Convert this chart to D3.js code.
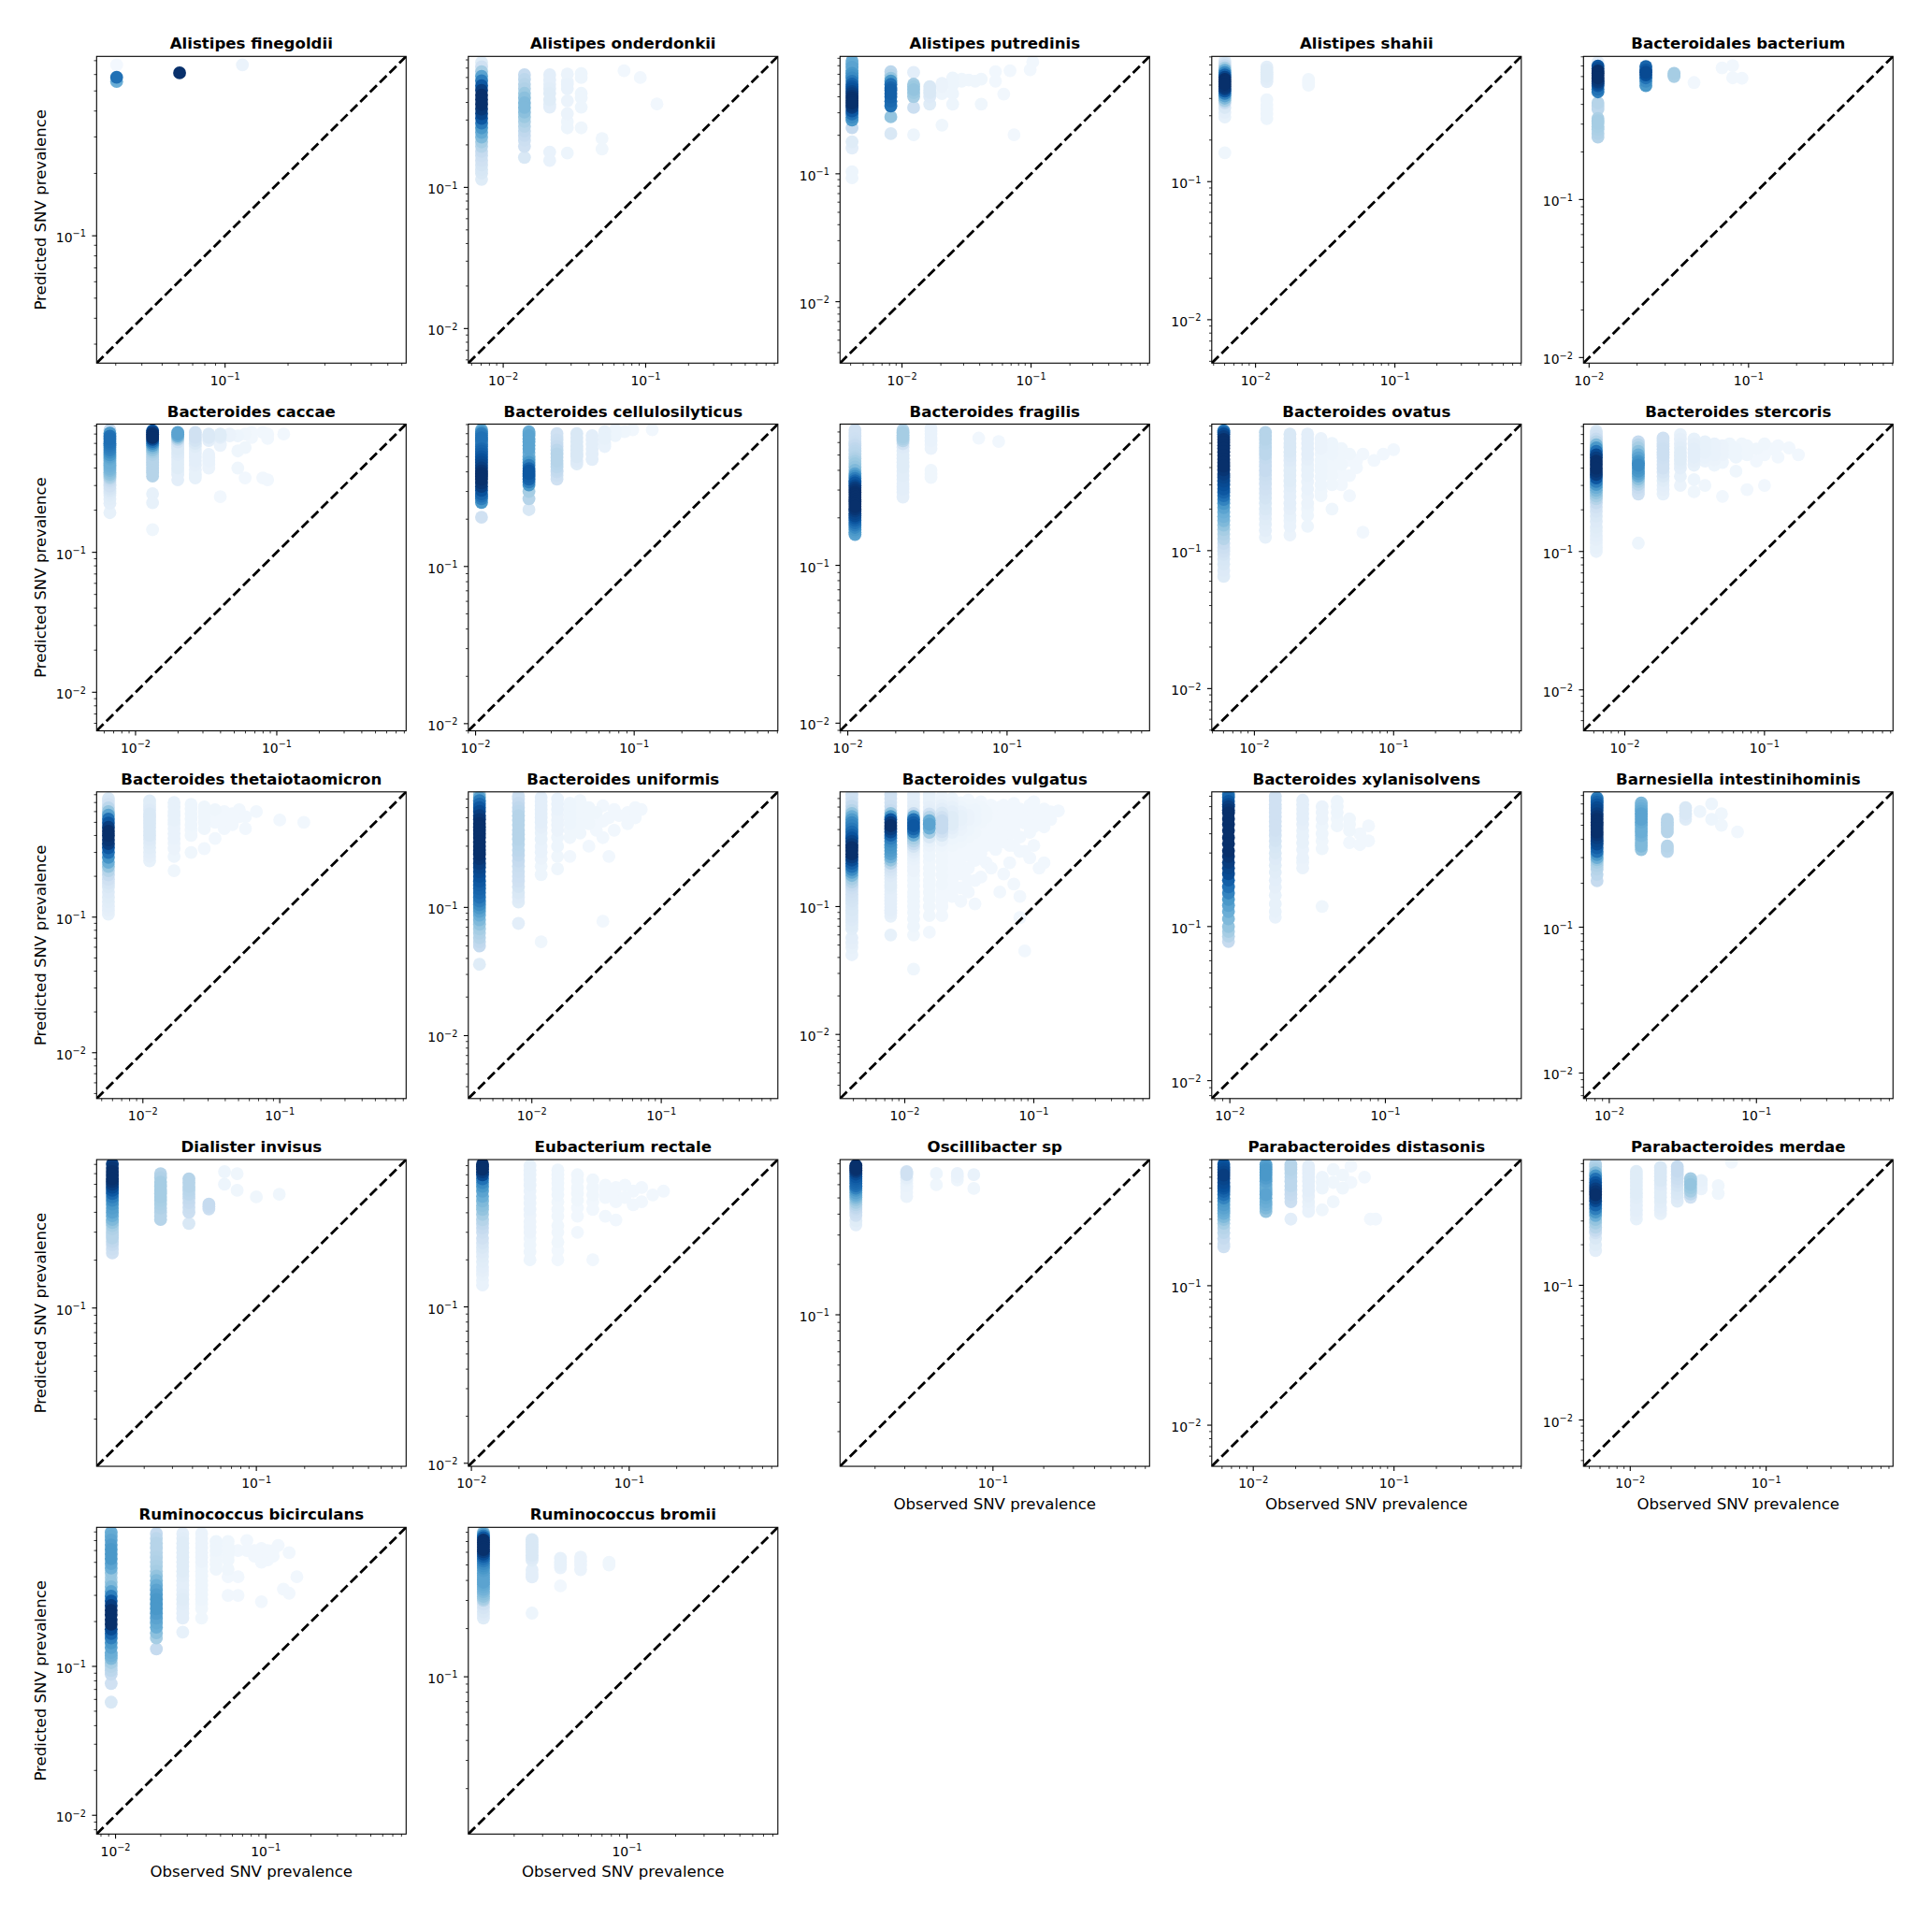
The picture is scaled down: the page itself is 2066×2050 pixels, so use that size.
<!DOCTYPE html>
<html><head><meta charset="utf-8">
<script src="https://cdn.jsdelivr.net/npm/d3@7"></script>
<style>body{margin:0;background:#fff} svg{display:block} text{font-family:"DejaVu Sans",sans-serif;fill:#000}</style>
</head><body><svg id="fig" width="2066" height="2050"></svg>
<script>
const speciesNames = ["Alistipes finegoldii","Alistipes onderdonkii","Alistipes putredinis","Alistipes shahii","Bacteroidales bacterium","Bacteroides caccae","Bacteroides cellulosilyticus","Bacteroides fragilis","Bacteroides ovatus","Bacteroides stercoris","Bacteroides thetaiotaomicron","Bacteroides uniformis","Bacteroides vulgatus","Bacteroides xylanisolvens","Barnesiella intestinihominis","Dialister invisus","Eubacterium rectale","Oscillibacter sp","Parabacteroides distasonis","Parabacteroides merdae","Ruminococcus bicirculans","Ruminococcus bromii"];
const axisLo = [0.0243,0.00569,0.00331,0.00485,0.00922,0.0053,0.009,0.00894,0.00494,0.00506,0.00459,0.00323,0.00315,0.00765,0.00668,0.0101,0.00956,0.0124,0.00507,0.00453,0.00748,0.0104];
const axisHi = [0.734,0.847,0.828,0.807,0.805,0.824,0.805,0.785,0.826,0.832,0.839,0.796,0.789,0.748,0.847,0.858,0.875,0.848,0.802,0.857,0.859,0.859];
const majorTickValues = [0.01, 0.1];
const majorTickBase = ["10","10"];
const majorTickExp = ["\u22122","\u22121"];
const xAxisLabel = "Observed SNV prevalence";
const yAxisLabel = "Predicted SNV prevalence";
const bluesStops = ["#f7fbff","#deebf7","#c6dbef","#9ecae1","#6baed6","#4292c6","#2171b5","#08519c","#08306b"];

// each column: [observed prevalence, [predicted, density, predicted, density, ...]]
const alistipesFinegoldii = [
 [0.0303,[0.668,.02,0.582,.75,0.555,.5]],
 [0.0606,[0.611,1]],
 [0.121,[0.668,.06]]
];
const alistipesOnderdonkii = [
 [0.00705,[0.769,.12,0.715,.2,0.661,.35,0.612,.55,0.568,.7,0.525,.85,0.487,.95,0.45,1,0.418,1,0.388,1,0.359,.97,0.333,.92,0.308,.85,0.285,.72,0.264,.6,0.245,.52,0.227,.45,0.21,.35,0.195,.3,0.18,.25,0.168,.22,0.155,.2,0.144,.18,0.134,.16,0.126,.15,0.114,.12]],
 [0.0141,[0.628,.25,0.583,.28,0.538,.3,0.5,.32,0.464,.38,0.43,.42,0.397,.45,0.368,.45,0.341,.42,0.316,.38,0.293,.33,0.271,.3,0.251,.27,0.233,.25,0.216,.22,0.195,.2,0.163,.15]],
 [0.0212,[0.628,.1,0.58,.1,0.538,.1,0.5,.11,0.464,.12,0.418,.12,0.39,.1,0.37,.1,0.178,.07,0.155,.07]],
 [0.0282,[0.635,.06,0.56,.06,0.538,.07,0.5,.07,0.41,.06,0.333,.06,0.293,.05,0.264,.05,0.175,.05]],
 [0.0353,[0.64,.05,0.6,.05,0.464,.05,0.43,.05,0.37,.05,0.264,.04]],
 [0.0494,[0.222,.04,0.187,.04]],
 [0.0705,[0.67,.03]],
 [0.0917,[0.6,.03]],
 [0.12,[0.39,.03]]
];
const alistipesPutredinis = [
 [0.0041,[0.764,.5,0.72,.52,0.682,.55,0.645,.55,0.611,.6,0.585,.62,0.562,.65,0.53,.72,0.502,.8,0.48,.85,0.461,.88,0.44,.92,0.424,.95,0.405,.98,0.39,1,0.372,1,0.358,1,0.343,.97,0.33,.95,0.31,.85,0.294,.75,0.278,.65,0.263,.6,0.229,.25,0.178,.12,0.159,.1,0.104,.05,0.093,.05]],
 [0.00819,[0.628,.28,0.59,.3,0.56,.4,0.531,.6,0.5,.75,0.47,.8,0.45,.82,0.424,.82,0.4,.8,0.37,.78,0.339,.75,0.279,.4,0.206,.15]],
 [0.0123,[0.62,.1,0.502,.35,0.48,.38,0.455,.4,0.43,.38,0.401,.35,0.33,.22,0.202,.05]],
 [0.0164,[0.48,.15,0.45,.15,0.43,.15,0.401,.13,0.35,.12]],
 [0.0204,[0.51,.06,0.48,.06,0.424,.05,0.24,.04]],
 [0.0247,[0.562,.05,0.5,.05,0.424,.05,0.35,.05]],
 [0.029,[0.55,.04,0.53,.04]],
 [0.0329,[0.54,.04]],
 [0.0369,[0.53,.04]],
 [0.0411,[0.55,.04,0.35,.04]],
 [0.053,[0.63,.03,0.53,.03]],
 [0.0614,[0.42,.03]],
 [0.0687,[0.64,.03]],
 [0.0738,[0.202,.03]],
 [0.0984,[0.65,.03]],
 [0.103,[0.75,.03]]
];
const alistipesShahii = [
 [0.00602,[0.75,.12,0.72,.18,0.693,.25,0.665,.35,0.641,.5,0.615,.65,0.593,.8,0.57,.92,0.55,1,0.528,1,0.508,1,0.488,.98,0.47,.95,0.452,.85,0.435,.7,0.418,.55,0.402,.45,0.386,.35,0.372,.25,0.344,.15,0.318,.1,0.294,.08,0.162,.04]],
 [0.01205,[0.676,.1,0.645,.12,0.62,.12,0.598,.12,0.578,.12,0.555,.11,0.53,.1,0.392,.05,0.36,.05,0.335,.05,0.31,.05,0.286,.05]],
 [0.024,[0.55,.04,0.52,.04,0.5,.04]]
];
const bacteroidalesBacterium = [
 [0.01136,[0.738,.1,0.7,.85,0.675,.9,0.65,1,0.63,1,0.61,1,0.589,1,0.57,.97,0.555,.95,0.54,.9,0.525,.85,0.5,.75,0.48,.7,0.409,.3,0.39,.28,0.373,.28,0.326,.33,0.315,.35,0.304,.35,0.29,.34,0.278,.33,0.262,.32,0.248,.3]],
 [0.0227,[0.695,.8,0.66,.85,0.638,.9,0.615,.88,0.589,.75,0.56,.65,0.525,.6]],
 [0.0341,[0.63,.35,0.615,.34,0.601,.33]],
 [0.0455,[0.55,.03]],
 [0.0682,[0.68,.03]],
 [0.0795,[0.705,.03,0.589,.03]],
 [0.0909,[0.585,.03]]
];
const bacteroidesCaccae = [
 [0.00658,[0.748,.25,0.71,.6,0.676,.75,0.645,.76,0.62,.75,0.6,.74,0.58,.72,0.56,.7,0.54,.68,0.518,.64,0.497,.6,0.48,.55,0.465,.52,0.45,.5,0.436,.5,0.42,.49,0.41,.48,0.397,.47,0.385,.45,0.372,.42,0.36,.4,0.348,.35,0.338,.3,0.326,.25,0.315,.22,0.305,.2,0.297,.2,0.285,.17,0.275,.15,0.265,.13,0.255,.12,0.24,.11,0.224,.1,0.192,.08]],
 [0.0132,[0.74,.85,0.72,.95,0.7,1,0.68,1,0.66,1,0.64,.9,0.62,.75,0.6,.65,0.58,.55,0.56,.45,0.54,.4,0.52,.35,0.5,.32,0.48,.3,0.46,.3,0.44,.3,0.42,.3,0.4,.3,0.385,.3,0.37,.3,0.35,.3,0.262,.08,0.226,.08,0.145,.04]],
 [0.0199,[0.72,.55,0.7,.55,0.68,.5,0.66,.4,0.64,.3,0.615,.2,0.59,.15,0.57,.15,0.55,.15,0.52,.14,0.5,.13,0.475,.12,0.45,.12,0.425,.12,0.4,.12,0.38,.1,0.36,.1,0.33,.1]],
 [0.0265,[0.72,.2,0.69,.2,0.66,.2,0.63,.18,0.6,.15,0.57,.12,0.54,.1,0.51,.1,0.48,.1,0.45,.1,0.42,.09,0.39,.08,0.36,.08,0.34,.08]],
 [0.033,[0.7,.14,0.68,.14,0.66,.14,0.63,.1,0.5,.07,0.475,.07,0.45,.07,0.425,.06,0.4,.06]],
 [0.0398,[0.7,.12,0.68,.12,0.66,.1,0.6,.06,0.58,.06,0.25,.03]],
 [0.0464,[0.7,.06,0.68,.06]],
 [0.053,[0.68,.05,0.53,.04,0.4,.04]],
 [0.0597,[0.7,.04,0.56,.04,0.34,.03]],
 [0.0663,[0.72,.03,0.66,.03]],
 [0.0796,[0.72,.03,0.34,.03]],
 [0.0862,[0.7,.03,0.65,.03,0.33,.03]],
 [0.112,[0.7,.03]]
];
const bacteroidesCellulosilyticus = [
 [0.0109,[0.74,.5,0.72,.6,0.7,.7,0.68,.72,0.66,.75,0.64,.72,0.62,.7,0.6,.72,0.58,.75,0.56,.78,0.54,.8,0.52,.82,0.5,.85,0.48,.88,0.46,.9,0.44,.92,0.423,.95,0.405,.98,0.39,1,0.375,1,0.36,1,0.34,.98,0.323,.95,0.305,.88,0.29,.8,0.28,.75,0.27,.7,0.255,.6,0.206,.2]],
 [0.0217,[0.72,.5,0.7,.52,0.68,.55,0.65,.55,0.62,.55,0.59,.55,0.56,.55,0.53,.5,0.5,.5,0.48,.55,0.46,.6,0.44,.7,0.42,.8,0.405,.85,0.39,.85,0.375,.82,0.36,.8,0.345,.7,0.33,.6,0.3,.35,0.27,.3,0.23,.15]],
 [0.0326,[0.7,.2,0.67,.2,0.64,.22,0.61,.23,0.58,.25,0.55,.28,0.52,.3,0.495,.3,0.47,.3,0.45,.29,0.43,.28,0.41,.26,0.4,.25,0.38,.22,0.36,.2]],
 [0.0435,[0.7,.15,0.66,.15,0.62,.15,0.58,.15,0.55,.15,0.52,.15,0.5,.15,0.47,.13,0.45,.12]],
 [0.0543,[0.68,.1,0.64,.1,0.6,.1,0.56,.1,0.52,.1,0.48,.1]],
 [0.0652,[0.72,.08,0.68,.08,0.65,.08,0.61,.07,0.58,.07]],
 [0.076,[0.74,.05,0.71,.05,0.68,.05]],
 [0.087,[0.72,.04]],
 [0.098,[0.74,.03]],
 [0.13,[0.74,.03]]
];
const bacteroidesFragilis = [
 [0.0111,[0.72,.2,0.69,.2,0.66,.2,0.635,.21,0.61,.22,0.59,.23,0.574,.25,0.55,.27,0.53,.28,0.51,.29,0.49,.3,0.475,.32,0.458,.35,0.44,.38,0.42,.4,0.4,.45,0.381,.55,0.368,.62,0.355,.7,0.343,.78,0.333,.85,0.32,.9,0.31,.95,0.3,.98,0.29,1,0.28,1,0.27,1,0.26,1,0.253,1,0.245,1,0.236,1,0.228,.98,0.221,.95,0.213,.92,0.206,.9,0.2,.85,0.193,.8,0.186,.75,0.18,.7,0.174,.65,0.168,.6,0.162,.57,0.157,.55]],
 [0.0222,[0.72,.3,0.7,.33,0.689,.35,0.67,.35,0.65,.35,0.632,.33,0.615,.3,0.59,.2,0.56,.13,0.53,.12,0.5,.12,0.475,.12,0.45,.12,0.43,.12,0.418,.12,0.395,.11,0.37,.11,0.35,.1,0.33,.1,0.315,.1,0.304,.1,0.29,.09,0.271,.09]],
 [0.0333,[0.74,.07,0.71,.07,0.68,.07,0.645,.07,0.615,.07,0.58,.06,0.55,.06,0.4,.04,0.38,.04,0.36,.04]],
 [0.0664,[0.64,.03]],
 [0.0886,[0.61,.03]]
];
const bacteroidesOvatus = [
 [0.00602,[0.74,.7,0.72,.8,0.7,.9,0.67,.95,0.64,1,0.61,1,0.58,1,0.55,1,0.52,1,0.49,1,0.46,1,0.435,1,0.41,1,0.385,.98,0.36,.95,0.34,.92,0.32,.9,0.3,.88,0.28,.85,0.265,.8,0.25,.75,0.235,.68,0.22,.6,0.205,.55,0.19,.5,0.177,.48,0.165,.45,0.153,.4,0.142,.35,0.132,.32,0.122,.3,0.113,.25,0.105,.22,0.099,.2,0.094,.18,0.087,.16,0.08,.15,0.072,.13,0.065,.12]],
 [0.012,[0.72,.3,0.68,.3,0.64,.3,0.6,.29,0.56,.28,0.53,.28,0.5,.28,0.47,.26,0.44,.25,0.41,.25,0.38,.25,0.355,.23,0.33,.22,0.305,.21,0.28,.2,0.26,.19,0.24,.18,0.22,.16,0.2,.15,0.185,.13,0.17,.12,0.155,.11,0.14,.1,0.125,.08]],
 [0.018,[0.7,.15,0.65,.15,0.6,.15,0.56,.15,0.52,.15,0.485,.14,0.45,.13,0.415,.12,0.38,.12,0.35,.12,0.32,.12,0.295,.11,0.27,.1,0.245,.1,0.22,.1,0.2,.09,0.18,.08,0.165,.07,0.15,.07,0.13,.06]],
 [0.0241,[0.7,.1,0.65,.1,0.6,.1,0.55,.1,0.5,.1,0.46,.09,0.42,.08,0.385,.08,0.35,.08,0.315,.07,0.28,.07,0.25,.06,0.22,.06,0.2,.05,0.18,.05,0.15,.05]],
 [0.0301,[0.65,.06,0.6,.06,0.55,.06,0.5,.05,0.45,.05,0.41,.05,0.38,.05,0.34,.05,0.3,.05,0.27,.04,0.25,.04]],
 [0.0361,[0.6,.05,0.55,.05,0.5,.05,0.45,.04,0.4,.04,0.35,.04,0.3,.04,0.2,.04]],
 [0.0422,[0.55,.04,0.5,.04,0.42,.04,0.36,.03,0.3,.03]],
 [0.0482,[0.5,.04,0.45,.03,0.35,.03,0.25,.03]],
 [0.0542,[0.45,.03,0.4,.03]],
 [0.0602,[0.5,.03,0.136,.03]],
 [0.0723,[0.45,.03]],
 [0.0843,[0.5,.03]],
 [0.1,[0.54,.03]]
];
const bacteroidesStercoris = [
 [0.00625,[0.74,.15,0.71,.18,0.68,.2,0.65,.25,0.62,.3,0.59,.45,0.56,.6,0.53,.75,0.5,.9,0.475,.95,0.45,1,0.425,1,0.4,1,0.38,.98,0.36,.95,0.34,.85,0.32,.7,0.305,.6,0.29,.5,0.277,.45,0.265,.4,0.252,.35,0.24,.3,0.225,.25,0.21,.2,0.195,.17,0.18,.15,0.165,.13,0.15,.12,0.14,.11,0.13,.1,0.122,.09,0.115,.08,0.107,.08,0.1,.07]],
 [0.0125,[0.62,.25,0.59,.3,0.56,.35,0.53,.42,0.5,.5,0.475,.55,0.45,.6,0.435,.62,0.42,.65,0.4,.62,0.38,.6,0.365,.55,0.35,.5,0.335,.42,0.32,.35,0.305,.3,0.29,.25,0.275,.22,0.26,.2,0.115,.05]],
 [0.0188,[0.66,.2,0.63,.2,0.6,.2,0.575,.21,0.55,.22,0.525,.22,0.5,.22,0.475,.21,0.45,.2,0.425,.2,0.4,.2,0.375,.17,0.35,.15,0.325,.12,0.3,.1,0.28,.09,0.26,.08]],
 [0.025,[0.7,.08,0.65,.09,0.6,.1,0.56,.11,0.52,.12,0.49,.12,0.46,.12,0.43,.11,0.4,.1,0.35,.08,0.3,.06]],
 [0.0313,[0.65,.08,0.6,.09,0.55,.1,0.515,.1,0.48,.1,0.45,.09,0.42,.08,0.33,.05,0.27,.04]],
 [0.0375,[0.62,.08,0.57,.08,0.52,.08,0.48,.07,0.45,.06,0.3,.04]],
 [0.0438,[0.6,.07,0.55,.07,0.5,.07,0.46,.06,0.42,.05]],
 [0.05,[0.58,.06,0.54,.06,0.5,.06,0.44,.05,0.25,.03]],
 [0.0563,[0.6,.05,0.56,.05,0.52,.05]],
 [0.0625,[0.55,.05,0.48,.05,0.38,.04]],
 [0.0688,[0.6,.04,0.52,.04]],
 [0.075,[0.58,.04,0.5,.04,0.28,.03]],
 [0.0875,[0.55,.04,0.45,.03]],
 [0.1,[0.6,.04,0.5,.03,0.3,.03]],
 [0.1125,[0.55,.03]],
 [0.125,[0.58,.03,0.48,.03]],
 [0.15,[0.56,.03]],
 [0.175,[0.5,.03]]
];
const bacteroidesThetaiotaomicron = [
 [0.0056,[0.75,.15,0.715,.17,0.68,.2,0.64,.28,0.6,.4,0.565,.55,0.528,.75,0.495,.85,0.46,.95,0.43,1,0.4,1,0.372,.98,0.348,.95,0.325,.85,0.3,.75,0.276,.62,0.254,.5,0.236,.4,0.22,.3,0.205,.25,0.19,.2,0.178,.17,0.167,.15,0.153,.13,0.14,.12,0.13,.11,0.12,.1,0.112,.09,0.105,.08]],
 [0.0112,[0.72,.12,0.68,.12,0.65,.12,0.615,.13,0.58,.15,0.55,.15,0.52,.15,0.49,.15,0.46,.15,0.43,.15,0.4,.15,0.375,.13,0.35,.12,0.325,.11,0.3,.1,0.28,.09,0.26,.08]],
 [0.0169,[0.7,.08,0.65,.08,0.6,.08,0.56,.08,0.52,.08,0.485,.07,0.45,.07,0.415,.07,0.38,.07,0.35,.06,0.32,.06,0.28,.05,0.22,.04]],
 [0.0225,[0.68,.05,0.63,.05,0.58,.05,0.53,.05,0.48,.05,0.44,.04,0.4,.04,0.3,.04]],
 [0.0281,[0.65,.04,0.6,.04,0.55,.04,0.5,.04,0.45,.04,0.32,.03]],
 [0.0337,[0.62,.04,0.56,.03,0.5,.03,0.38,.03]],
 [0.0393,[0.6,.03,0.52,.03,0.45,.03]],
 [0.045,[0.58,.03,0.48,.03]],
 [0.0506,[0.62,.03,0.55,.03]],
 [0.0562,[0.55,.03,0.45,.03]],
 [0.0675,[0.6,.03]],
 [0.1,[0.52,.03]],
 [0.15,[0.5,.03]]
];
const bacteroidesUniformis = [
 [0.00394,[0.76,.4,0.72,.55,0.68,.7,0.64,.78,0.6,.85,0.56,.9,0.52,.95,0.485,.98,0.45,1,0.425,1,0.4,1,0.375,1,0.35,1,0.325,1,0.3,1,0.28,1,0.26,1,0.24,.98,0.22,.95,0.205,.92,0.19,.9,0.175,.88,0.16,.85,0.15,.82,0.14,.8,0.13,.78,0.12,.75,0.112,.7,0.105,.65,0.099,.6,0.093,.55,0.087,.5,0.08,.45,0.074,.4,0.068,.35,0.063,.32,0.058,.3,0.054,.27,0.05,.25,0.036,.12]],
 [0.00788,[0.74,.2,0.7,.22,0.65,.25,0.6,.27,0.56,.28,0.52,.3,0.48,.3,0.44,.3,0.4,.3,0.37,.3,0.34,.3,0.31,.29,0.28,.28,0.255,.27,0.23,.25,0.21,.23,0.19,.22,0.175,.21,0.16,.2,0.145,.18,0.13,.15,0.12,.13,0.11,.12,0.075,.1]],
 [0.0118,[0.72,.1,0.67,.1,0.62,.1,0.58,.1,0.54,.1,0.5,.1,0.46,.1,0.42,.09,0.38,.08,0.34,.08,0.3,.07,0.27,.07,0.24,.06,0.21,.05,0.18,.05,0.054,.04]],
 [0.0158,[0.7,.07,0.64,.07,0.58,.07,0.53,.06,0.48,.06,0.44,.06,0.4,.06,0.35,.05,0.3,.05,0.25,.04,0.2,.04]],
 [0.0197,[0.65,.05,0.6,.05,0.55,.05,0.5,.05,0.45,.05,0.4,.04,0.35,.04,0.25,.03]],
 [0.0236,[0.68,.04,0.6,.04,0.5,.04,0.44,.04,0.38,.04]],
 [0.0276,[0.6,.04,0.52,.04,0.45,.04,0.3,.03]],
 [0.0315,[0.55,.04,0.48,.03,0.4,.03]],
 [0.0354,[0.62,.03,0.47,.03,0.35,.03,0.078,.03]],
 [0.0394,[0.5,.03,0.25,.03]],
 [0.0433,[0.58,.03,0.4,.03]],
 [0.0472,[0.52,.03]],
 [0.055,[0.55,.03,0.45,.03]],
 [0.063,[0.6,.03,0.5,.03]],
 [0.07,[0.58,.03]]
];
const bacteroidesVulgatus = [
 [0.00389,[0.75,.2,0.7,.2,0.653,.22,0.61,.26,0.566,.3,0.535,.4,0.507,.5,0.48,.58,0.453,.65,0.43,.68,0.405,.72,0.383,.77,0.362,.82,0.343,.87,0.324,.92,0.305,.96,0.289,1,0.273,1,0.258,1,0.245,.95,0.231,.9,0.218,.82,0.206,.75,0.195,.65,0.185,.55,0.175,.45,0.165,.35,0.156,.3,0.147,.25,0.14,.22,0.132,.2,0.125,.19,0.118,.18,0.111,.17,0.105,.16,0.099,.15,0.094,.15,0.089,.14,0.084,.14,0.079,.13,0.075,.12,0.071,.12,0.067,.11,0.057,.1,0.052,.09,0.048,.08,0.042,.07]],
 [0.00778,[0.75,.2,0.7,.2,0.653,.2,0.61,.22,0.566,.25,0.535,.4,0.507,.6,0.48,.85,0.453,.95,0.429,1,0.405,.95,0.383,.9,0.362,.8,0.343,.7,0.324,.65,0.305,.62,0.289,.6,0.273,.58,0.258,.55,0.245,.48,0.231,.4,0.218,.3,0.206,.2,0.195,.17,0.185,.15,0.175,.13,0.165,.12,0.156,.12,0.147,.12,0.14,.11,0.132,.1,0.125,.1,0.118,.1,0.111,.1,0.105,.1,0.099,.1,0.094,.1,0.089,.09,0.084,.08,0.06,.08]],
 [0.0117,[0.75,.1,0.7,.1,0.653,.1,0.61,.11,0.566,.12,0.535,.25,0.507,.5,0.48,.75,0.453,.82,0.429,.85,0.405,.8,0.383,.7,0.362,.5,0.343,.35,0.325,.3,0.31,.25,0.295,.18,0.28,.12,0.265,.1,0.25,.08,0.235,.07,0.22,.06,0.205,.06,0.19,.06,0.175,.05,0.16,.05,0.145,.05,0.13,.05,0.12,.05,0.11,.05,0.1,.05,0.09,.05,0.08,.05,0.07,.05,0.06,.04,0.0324,.04]],
 [0.0155,[0.75,.08,0.7,.08,0.65,.08,0.6,.09,0.56,.1,0.53,.2,0.5,.3,0.47,.5,0.44,.55,0.41,.5,0.38,.35,0.35,.15,0.325,.08,0.3,.06,0.275,.05,0.25,.05,0.225,.04,0.2,.04,0.18,.04,0.16,.04,0.145,.04,0.13,.04,0.115,.04,0.1,.04,0.085,.04,0.063,.03]],
 [0.0194,[0.72,.05,0.67,.06,0.62,.08,0.58,.1,0.54,.15,0.5,.2,0.47,.25,0.44,.25,0.41,.25,0.385,.2,0.36,.15,0.33,.08,0.3,.05,0.275,.04,0.25,.04,0.225,.04,0.2,.04,0.175,.04,0.15,.04,0.135,.03,0.12,.03,0.11,.03,0.1,.03,0.085,.03]],
 [0.0233,[0.7,.05,0.65,.06,0.6,.08,0.55,.1,0.5,.12,0.47,.12,0.44,.12,0.41,.1,0.38,.08,0.34,.05,0.3,.04,0.26,.03,0.22,.03,0.19,.03,0.16,.03,0.14,.03,0.12,.03]],
 [0.0272,[0.65,.04,0.6,.05,0.55,.07,0.51,.08,0.48,.08,0.44,.07,0.4,.06,0.36,.05,0.32,.04,0.28,.03,0.25,.03,0.21,.03,0.18,.03,0.14,.03,0.11,.03]],
 [0.0311,[0.68,.03,0.62,.04,0.56,.05,0.52,.06,0.48,.06,0.44,.05,0.4,.05,0.35,.04,0.3,.03,0.25,.03,0.2,.03,0.16,.03,0.13,.03]],
 [0.035,[0.62,.04,0.57,.05,0.52,.05,0.47,.05,0.43,.04,0.38,.04,0.33,.03,0.28,.03,0.23,.03,0.16,.03,0.105,.03]],
 [0.0389,[0.66,.03,0.6,.04,0.55,.04,0.5,.04,0.46,.04,0.42,.03,0.38,.03,0.32,.03,0.26,.03,0.17,.03]],
 [0.0428,[0.6,.03,0.55,.04,0.5,.04,0.46,.03,0.42,.03,0.36,.03,0.3,.03,0.22,.03]],
 [0.0467,[0.62,.03,0.57,.03,0.52,.03,0.48,.03,0.44,.03,0.39,.03,0.34,.03,0.2,.03]],
 [0.0506,[0.58,.03,0.53,.03,0.48,.03,0.44,.03,0.4,.03,0.33,.03,0.28,.03]],
 [0.0545,[0.6,.03,0.55,.03,0.5,.03,0.45,.03,0.36,.03,0.13,.03]],
 [0.0584,[0.62,.03,0.54,.03,0.46,.03,0.38,.03,0.32,.03,0.18,.03]],
 [0.065,[0.56,.03,0.5,.03,0.45,.03,0.37,.03,0.3,.03,0.22,.03]],
 [0.07,[0.64,.03,0.57,.03,0.5,.03,0.4,.03,0.3,.03,0.15,.03]],
 [0.078,[0.58,.03,0.52,.03,0.46,.03,0.35,.03,0.27,.03,0.12,.03,0.082,.03]],
 [0.085,[0.55,.03,0.5,.03,0.45,.03,0.27,.03,0.045,.03]],
 [0.093,[0.62,.03,0.56,.03,0.5,.03,0.38,.03,0.24,.03]],
 [0.1,[0.66,.03,0.58,.03,0.52,.03,0.42,.03,0.3,.03]],
 [0.11,[0.55,.03,0.5,.03,0.45,.03,0.2,.03]],
 [0.12,[0.58,.03,0.5,.03,0.42,.03,0.22,.03]],
 [0.135,[0.55,.03,0.48,.03]],
 [0.155,[0.56,.03]]
];
const bacteroidesXylanisolvens = [
 [0.0098,[0.72,.7,0.69,.78,0.65,.85,0.62,.9,0.6,.95,0.57,.98,0.546,1,0.5,1,0.46,1,0.42,1,0.378,1,0.345,1,0.31,1,0.285,.98,0.261,.95,0.24,.92,0.22,.9,0.2,.82,0.181,.75,0.165,.68,0.15,.6,0.137,.55,0.125,.5,0.112,.45,0.1,.4,0.093,.35,0.0865,.3,0.08,.25]],
 [0.0196,[0.7,.2,0.66,.2,0.62,.2,0.585,.2,0.55,.2,0.515,.2,0.48,.2,0.45,.2,0.42,.2,0.39,.19,0.36,.18,0.33,.16,0.3,.15,0.275,.13,0.25,.12,0.225,.11,0.2,.1,0.18,.09,0.16,.08,0.14,.08,0.125,.08,0.115,.07]],
 [0.0294,[0.66,.1,0.62,.1,0.58,.1,0.54,.1,0.5,.1,0.46,.09,0.42,.08,0.385,.08,0.35,.08,0.315,.07,0.28,.07,0.26,.06,0.24,.06]],
 [0.0392,[0.6,.06,0.55,.06,0.5,.06,0.45,.05,0.4,.05,0.36,.04,0.32,.04,0.135,.04]],
 [0.049,[0.65,.05,0.6,.05,0.55,.05,0.5,.04,0.45,.04]],
 [0.0588,[0.5,.04,0.46,.04,0.42,.04,0.35,.03]],
 [0.0686,[0.4,.03,0.34,.03]],
 [0.078,[0.45,.03,0.36,.03]]
];
const barnesiellaIntestinihominis = [
 [0.00826,[0.77,.7,0.74,.75,0.72,.8,0.69,.85,0.66,.9,0.63,.92,0.6,.95,0.575,.98,0.55,1,0.525,1,0.5,1,0.475,1,0.45,1,0.43,.98,0.41,.95,0.39,.92,0.372,.9,0.35,.82,0.33,.75,0.315,.6,0.3,.5,0.29,.4,0.279,.35,0.265,.32,0.25,.3,0.23,.28,0.208,.25]],
 [0.0165,[0.71,.45,0.68,.48,0.65,.5,0.625,.52,0.6,.55,0.575,.55,0.55,.55,0.525,.52,0.5,.5,0.475,.5,0.45,.5,0.425,.48,0.4,.45,0.38,.45,0.36,.45,0.34,.4]],
 [0.0248,[0.55,.3,0.525,.3,0.5,.3,0.475,.3,0.45,.3,0.36,.3,0.345,.29,0.33,.28]],
 [0.033,[0.66,.15,0.63,.15,0.6,.15,0.575,.13,0.55,.12]],
 [0.0413,[0.62,.05]],
 [0.0496,[0.7,.05,0.55,.05]],
 [0.0578,[0.6,.04,0.5,.04]],
 [0.0744,[0.45,.03]]
];
const dialisterInvisus = [
 [0.01266,[0.805,.95,0.76,.98,0.72,1,0.685,1,0.65,1,0.625,.98,0.6,.95,0.575,.9,0.55,.85,0.525,.78,0.5,.7,0.475,.65,0.45,.6,0.425,.57,0.4,.55,0.38,.5,0.36,.45,0.345,.4,0.33,.35,0.315,.32,0.3,.3,0.288,.3,0.276,.3,0.262,.27,0.25,.25,0.235,.22,0.222,.2]],
 [0.0253,[0.7,.3,0.66,.32,0.62,.35,0.585,.35,0.55,.35,0.525,.35,0.5,.35,0.475,.34,0.45,.33,0.425,.32,0.4,.3,0.38,.3,0.36,.3]],
 [0.038,[0.65,.3,0.615,.3,0.58,.3,0.55,.29,0.52,.28,0.49,.26,0.46,.25,0.43,.23,0.4,.22,0.34,.15]],
 [0.0506,[0.45,.25,0.435,.24,0.42,.22]],
 [0.0633,[0.72,.05,0.6,.05]],
 [0.0759,[0.7,.04,0.55,.04]],
 [0.1,[0.5,.04]],
 [0.139,[0.52,.04]]
];
const eubacteriumRectale = [
 [0.01176,[0.818,1,0.79,1,0.76,1,0.73,.95,0.7,.9,0.66,.75,0.624,.65,0.59,.6,0.55,.55,0.51,.5,0.475,.45,0.445,.42,0.42,.4,0.39,.35,0.361,.3,0.34,.27,0.32,.25,0.3,.22,0.275,.2,0.257,.17,0.24,.15,0.225,.13,0.21,.12,0.195,.11,0.18,.1,0.17,.09,0.16,.08,0.148,.07,0.138,.07]],
 [0.0235,[0.8,.08,0.75,.08,0.7,.08,0.65,.08,0.6,.08,0.55,.07,0.5,.07,0.46,.07,0.42,.07,0.385,.06,0.35,.06,0.325,.06,0.3,.06,0.275,.05,0.25,.05,0.225,.05,0.2,.05]],
 [0.0353,[0.75,.05,0.7,.05,0.66,.05,0.62,.05,0.57,.05,0.52,.05,0.47,.04,0.42,.04,0.38,.04,0.33,.04,0.3,.04,0.26,.04,0.23,.03,0.2,.03]],
 [0.047,[0.7,.04,0.64,.04,0.58,.04,0.53,.04,0.48,.04,0.43,.03,0.38,.03,0.3,.03]],
 [0.0588,[0.65,.04,0.58,.04,0.52,.04,0.47,.03,0.42,.03,0.2,.03]],
 [0.0706,[0.6,.03,0.55,.03,0.5,.03,0.38,.03]],
 [0.0824,[0.58,.03,0.52,.03,0.47,.03,0.36,.03]],
 [0.094,[0.6,.03,0.5,.03]],
 [0.106,[0.55,.03,0.45,.03]],
 [0.12,[0.58,.03,0.47,.03]],
 [0.141,[0.52,.03]],
 [0.165,[0.55,.03]]
];
const oscillibacterSp = [
 [0.0154,[0.782,1,0.765,1,0.75,1,0.735,.98,0.718,.95,0.695,.9,0.67,.85,0.65,.82,0.631,.8,0.61,.78,0.59,.75,0.572,.68,0.555,.6,0.537,.55,0.52,.5,0.504,.45,0.488,.4,0.47,.35,0.455,.3,0.44,.27,0.429,.25,0.41,.22,0.393,.2,0.365,.12,0.345,.1]],
 [0.0308,[0.718,.2,0.705,.2,0.69,.2,0.66,.1,0.64,.08,0.61,.07,0.59,.07,0.57,.06,0.54,.06,0.51,.06]],
 [0.0462,[0.7,.05,0.6,.04]],
 [0.0615,[0.7,.07,0.67,.06,0.64,.05]],
 [0.077,[0.69,.07,0.57,.04]]
];
const parabacteroidesDistasonis = [
 [0.00617,[0.743,.85,0.71,.88,0.68,.9,0.65,.92,0.62,.95,0.585,.92,0.548,.9,0.52,.88,0.5,.85,0.475,.8,0.45,.75,0.425,.68,0.404,.6,0.38,.58,0.36,.55,0.345,.52,0.33,.5,0.313,.45,0.298,.4,0.28,.35,0.26,.3,0.24,.28,0.219,.25,0.2,.22,0.19,.2]],
 [0.0123,[0.74,.55,0.71,.58,0.68,.6,0.65,.6,0.62,.6,0.59,.58,0.56,.55,0.53,.52,0.5,.5,0.475,.52,0.45,.55,0.425,.52,0.4,.5,0.38,.48,0.36,.45,0.34,.4]],
 [0.0185,[0.74,.3,0.71,.3,0.68,.3,0.64,.29,0.6,.28,0.56,.28,0.52,.28,0.485,.26,0.45,.25,0.425,.23,0.4,.22,0.3,.1]],
 [0.0247,[0.72,.1,0.68,.1,0.64,.1,0.6,.1,0.56,.1,0.52,.1,0.48,.1,0.44,.09,0.4,.08,0.37,.07,0.34,.07]],
 [0.0309,[0.6,.05,0.55,.05,0.5,.05,0.35,.04]],
 [0.037,[0.68,.04,0.55,.04,0.4,.04]],
 [0.0432,[0.62,.04,0.5,.04]],
 [0.0494,[0.72,.03,0.55,.03]],
 [0.0617,[0.6,.03]],
 [0.0679,[0.3,.03]],
 [0.0741,[0.3,.03]]
];
const parabacteroidesMerdae = [
 [0.00556,[0.794,.3,0.76,.32,0.72,.35,0.685,.45,0.65,.6,0.615,.75,0.579,.85,0.55,.9,0.52,.95,0.495,.98,0.47,1,0.445,.95,0.423,.9,0.395,.8,0.37,.7,0.35,.6,0.33,.5,0.308,.4,0.29,.35,0.27,.3,0.255,.25,0.245,.2,0.224,.15,0.2,.12,0.181,.1]],
 [0.0111,[0.7,.12,0.66,.12,0.62,.12,0.585,.12,0.55,.12,0.515,.12,0.48,.12,0.45,.11,0.42,.1,0.39,.1,0.36,.1,0.335,.09,0.31,.08]],
 [0.0167,[0.75,.15,0.71,.15,0.68,.15,0.64,.15,0.6,.15,0.56,.13,0.52,.12,0.485,.12,0.45,.12,0.415,.11,0.38,.1,0.36,.09,0.34,.08]],
 [0.0222,[0.76,.25,0.73,.25,0.7,.25,0.66,.23,0.62,.22,0.585,.2,0.55,.18,0.515,.16,0.48,.15,0.45,.13,0.42,.12]],
 [0.0278,[0.62,.35,0.59,.38,0.56,.4,0.53,.38,0.5,.35,0.475,.28,0.45,.2]],
 [0.0333,[0.6,.08,0.56,.07,0.52,.06]],
 [0.0444,[0.55,.04,0.48,.04]],
 [0.0556,[0.82,.03]]
];
const ruminococcusBicirculans = [
 [0.00935,[0.796,.5,0.75,.52,0.705,.55,0.655,.58,0.61,.6,0.568,.6,0.528,.6,0.49,.55,0.457,.5,0.425,.4,0.395,.35,0.368,.4,0.342,.45,0.318,.55,0.296,.7,0.275,.85,0.256,.95,0.238,1,0.222,1,0.206,1,0.192,1,0.178,.9,0.166,.8,0.155,.7,0.144,.6,0.134,.55,0.124,.5,0.118,.48,0.113,.45,0.106,.35,0.1,.3,0.094,.28,0.0887,.25,0.0767,.2,0.0575,.15]],
 [0.0187,[0.78,.25,0.725,.28,0.673,.3,0.625,.3,0.582,.3,0.54,.31,0.504,.32,0.47,.33,0.436,.35,0.405,.4,0.377,.45,0.35,.5,0.326,.55,0.303,.58,0.282,.6,0.262,.6,0.244,.6,0.227,.58,0.211,.55,0.196,.52,0.183,.5,0.168,.42,0.155,.35,0.131,.25]],
 [0.028,[0.78,.1,0.725,.11,0.673,.12,0.625,.12,0.582,.12,0.54,.12,0.504,.12,0.47,.12,0.436,.12,0.405,.11,0.377,.1,0.35,.1,0.326,.1,0.303,.11,0.282,.12,0.262,.11,0.244,.1,0.227,.1,0.211,.1,0.17,.08]],
 [0.0374,[0.78,.06,0.725,.06,0.673,.06,0.625,.06,0.582,.06,0.54,.06,0.504,.06,0.47,.05,0.436,.05,0.405,.05,0.377,.05,0.35,.05,0.326,.05,0.303,.05,0.282,.05,0.262,.04,0.244,.04,0.211,.04]],
 [0.0467,[0.69,.05,0.645,.05,0.6,.05,0.56,.04,0.52,.04,0.485,.04,0.45,.04]],
 [0.0561,[0.69,.04,0.645,.04,0.6,.04,0.56,.04,0.52,.04,0.45,.04,0.4,.03,0.3,.03]],
 [0.0654,[0.6,.03,0.4,.03,0.3,.03]],
 [0.0748,[0.7,.03,0.6,.03]],
 [0.0841,[0.6,.03,0.55,.03]],
 [0.0935,[0.62,.03,0.58,.03,0.5,.03,0.272,.03]],
 [0.103,[0.6,.03,0.52,.03]],
 [0.112,[0.6,.03,0.55,.03]],
 [0.121,[0.65,.03]],
 [0.131,[0.33,.03]],
 [0.143,[0.58,.03,0.31,.03]],
 [0.161,[0.4,.03]]
];
const ruminococcusBromii = [
 [0.0129,[0.8,.4,0.78,.55,0.76,.7,0.74,.85,0.715,1,0.69,1,0.67,1,0.645,1,0.624,1,0.605,.95,0.585,.9,0.565,.82,0.546,.75,0.528,.7,0.51,.65,0.494,.62,0.478,.6,0.46,.57,0.445,.55,0.43,.55,0.417,.55,0.403,.55,0.39,.55,0.378,.52,0.365,.5,0.352,.48,0.34,.45,0.329,.42,0.318,.4,0.308,.35,0.3,.3,0.285,.2,0.27,.17,0.255,.15,0.244,.13,0.233,.12]],
 [0.0258,[0.72,.15,0.695,.15,0.67,.15,0.645,.15,0.624,.15,0.6,.15,0.575,.15,0.555,.13,0.535,.12,0.465,.1,0.44,.1,0.42,.1,0.25,.05]],
 [0.0387,[0.55,.08,0.52,.08,0.5,.08,0.48,.07,0.37,.03]],
 [0.0516,[0.56,.06,0.53,.06,0.5,.06,0.467,.06]],
 [0.0774,[0.52,.04,0.5,.04]]
];
const panelColumns = [alistipesFinegoldii, alistipesOnderdonkii, alistipesPutredinis, alistipesShahii, bacteroidalesBacterium, bacteroidesCaccae, bacteroidesCellulosilyticus, bacteroidesFragilis, bacteroidesOvatus, bacteroidesStercoris, bacteroidesThetaiotaomicron, bacteroidesUniformis, bacteroidesVulgatus, bacteroidesXylanisolvens, barnesiellaIntestinihominis, dialisterInvisus, eubacteriumRectale, oscillibacterSp, parabacteroidesDistasonis, parabacteroidesMerdae, ruminococcusBicirculans, ruminococcusBromii];

// ---- layout ----
const W = 331, H = 328, left0 = 103.3, top0 = 60.3, stepX = 397.5, stepY = 393.25, nCols = 5;
const color = d3.scaleLinear().domain(bluesStops.map((_, i) => i / 8)).range(bluesStops).clamp(true);
const svg = d3.select("#fig");
svg.append("rect").attr("width", 2066).attr("height", 2050).attr("fill", "#fff");
const isMajor = t => Math.abs(Math.log10(t) - Math.round(Math.log10(t))) < 1e-9;
function labelIndex(t) { return majorTickValues.findIndex(v => Math.abs(Math.log10(v) - Math.log10(t)) < 1e-6); }

speciesNames.forEach((name, i) => {
  const r = Math.floor(i / nCols), c = i % nCols;
  const x0 = left0 + c * stepX, y0 = top0 + r * stepY;
  const dom = [axisLo[i], axisHi[i]];
  const xs = d3.scaleLog().domain(dom).range([0, W]);
  const ys = d3.scaleLog().domain(dom).range([H, 0]);
  const g = svg.append("g").attr("transform", `translate(${x0},${y0})`);
  const clipId = "clip" + i;
  g.append("clipPath").attr("id", clipId).append("rect").attr("width", W).attr("height", H);

  const pts = [];
  panelColumns[i].forEach(([xv, arr]) => { for (let k = 0; k < arr.length; k += 2) pts.push({ x: xv, y: arr[k], d: arr[k + 1] }); });
  pts.sort((a, b) => a.d - b.d);
  const plot = g.append("g").attr("clip-path", `url(#${clipId})`);
  plot.selectAll("circle").data(pts).join("circle")
    .attr("cx", d => xs(d.x)).attr("cy", d => ys(d.y)).attr("r", 6.9)
    .attr("fill", d => color(d.d));
  plot.append("line")
    .attr("x1", xs(dom[0])).attr("y1", ys(dom[0])).attr("x2", xs(dom[1])).attr("y2", ys(dom[1]))
    .attr("stroke", "#000").attr("stroke-width", 2.8).attr("stroke-dasharray", "10.3,4.4");

  g.append("rect").attr("width", W).attr("height", H).attr("fill", "none").attr("stroke", "#000").attr("stroke-width", 1.1);

  const tks = xs.ticks();
  // x ticks
  tks.forEach(t => {
    const maj = isMajor(t);
    const px = xs(t);
    g.append("line").attr("x1", px).attr("x2", px).attr("y1", H).attr("y2", H + (maj ? 4.9 : 2.8))
      .attr("stroke", "#000").attr("stroke-width", maj ? 1.1 : 0.8);
    const py = ys(t);
    g.append("line").attr("x1", 0).attr("x2", -(maj ? 4.9 : 2.8)).attr("y1", py).attr("y2", py)
      .attr("stroke", "#000").attr("stroke-width", maj ? 1.1 : 0.8);
    if (maj) {
      const li = labelIndex(t);
      if (li >= 0) {
        const tx = g.append("text").attr("x", px).attr("y", H + 23.4).attr("text-anchor", "middle").attr("font-size", 13.9);
        tx.append("tspan").text(majorTickBase[li]);
        tx.append("tspan").attr("dy", -5.7).attr("font-size", 9.7).text(majorTickExp[li]);
        const ty = g.append("text").attr("x", -11.5).attr("y", py + 7).attr("text-anchor", "end").attr("font-size", 13.9);
        ty.append("tspan").text(majorTickBase[li]);
        ty.append("tspan").attr("dy", -5.7).attr("font-size", 9.7).text(majorTickExp[li]);
      }
    }
  });

  g.append("text").attr("x", W / 2).attr("y", -8).attr("text-anchor", "middle")
    .attr("font-size", 16.6).attr("font-weight", "bold").text(name);

  if (c === 0) {
    g.append("text").attr("transform", `translate(${49 - x0},${H / 2}) rotate(-90)`)
      .attr("text-anchor", "middle").attr("font-size", 16.6).text(yAxisLabel);
  }
  if (i + nCols >= speciesNames.length) {
    g.append("text").attr("x", W / 2).attr("y", H + 46).attr("text-anchor", "middle")
      .attr("font-size", 16.6).text(xAxisLabel);
  }
});
</script></body></html>
